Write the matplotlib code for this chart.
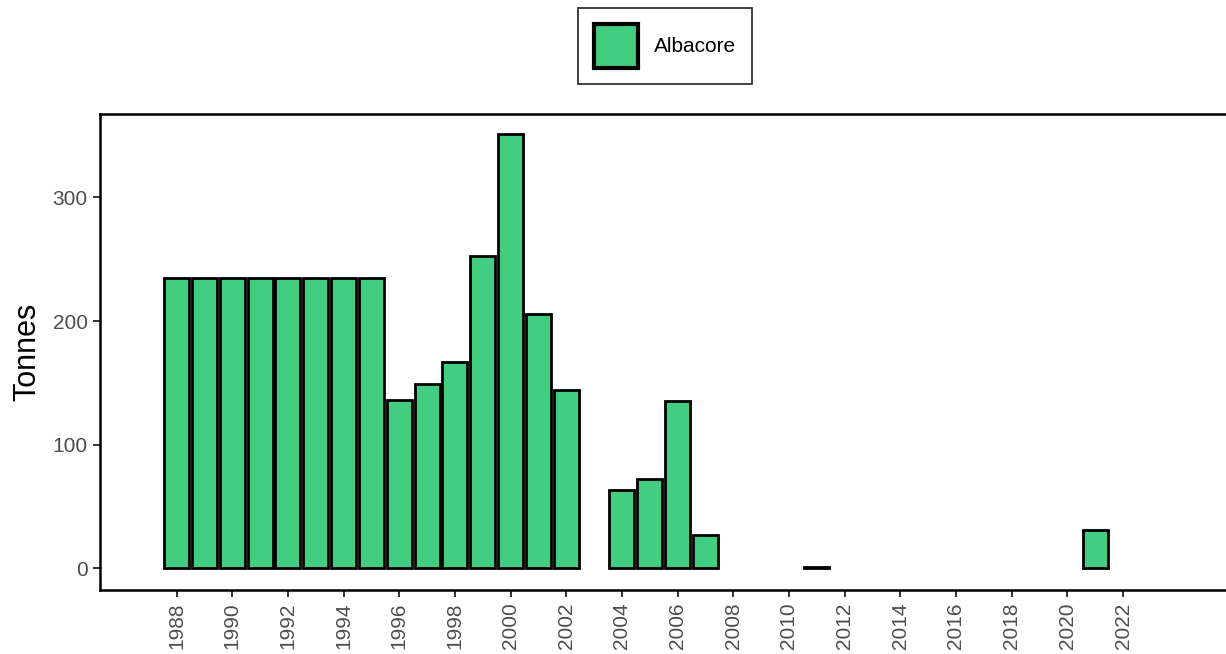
import matplotlib
matplotlib.use("Agg")
import matplotlib.pyplot as plt
from matplotlib.patches import Patch

plt.rcParams['font.family'] = ['Liberation Sans', 'DejaVu Sans']

years = [1988, 1989, 1990, 1991, 1992, 1993, 1994, 1995, 1996, 1997, 1998,
         1999, 2000, 2001, 2002, 2004, 2005, 2006, 2007, 2011, 2021]
tonnes = [235, 235, 235, 235, 235, 235, 235, 235, 136, 149, 167,
          253, 351, 206, 144, 63, 72, 135, 27, 1, 31]
tick_years = list(range(1988, 2023, 2))
species = "Albacore"

fig = plt.figure(figsize=(12.26, 6.54), dpi=100)
ax = fig.add_axes([100 / 1226, 1 - 590 / 654, 1126 / 1226, 476 / 654])

ax.bar(years, tonnes, width=0.9, color="#43CD80", edgecolor="black", linewidth=2)

ax.set_xlim(1985.25, 2025.7)
ax.set_ylim(-17.5, 367.5)
ax.set_xticks(tick_years)
ax.set_xticklabels([str(y) for y in tick_years], rotation=90)
ax.set_yticks([0, 100, 200, 300])
ax.tick_params(axis="both", colors="#333333", labelcolor="#4D4D4D", labelsize=15,
               length=5, width=1.4, pad=4)
ax.set_ylabel("Tonnes", fontsize=22, color="black", labelpad=7)

ax.spines["right"].set_visible(False)
for s in ["left", "bottom", "top"]:
    ax.spines[s].set_linewidth(1.8)
    ax.spines[s].set_color("black")

handle = Patch(facecolor="#43CD80", edgecolor="black", linewidth=3)
leg = fig.legend([handle], [species], loc="center", bbox_to_anchor=(665 / 1226, 1 - 46 / 654),
                 fontsize=15, frameon=True, fancybox=False, edgecolor="black",
                 handlelength=2.1, handleheight=2.9, borderpad=0.75, handletextpad=0.77)
leg.get_frame().set_linewidth(1.3)

fig.savefig("out.png", dpi=100)
